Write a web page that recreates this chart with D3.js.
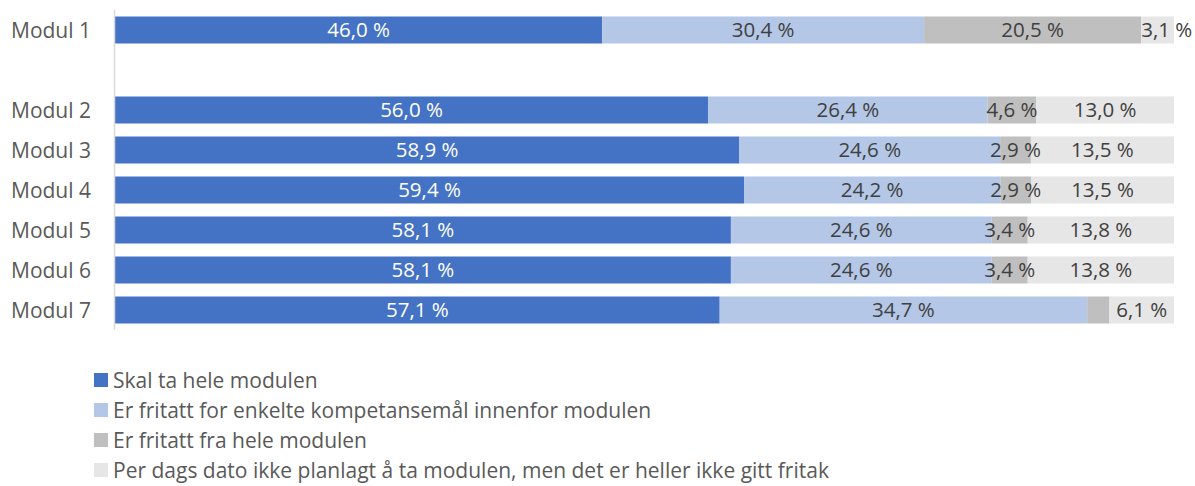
<!DOCTYPE html>
<html>
<head>
<meta charset="utf-8">
<script src="https://cdn.jsdelivr.net/npm/d3@7"></script>
<style>
  html, body { margin: 0; padding: 0; background: #fff; }
  svg { display: block; font-family: "Open Sans", sans-serif; }
</style>
</head>
<body>
<svg id="chart" width="1195" height="486"></svg>
<script>
const categories = ["Modul 1", "Modul 2", "Modul 3", "Modul 4", "Modul 5", "Modul 6", "Modul 7"];
const rowOrder = ["Modul 1", "gap", "Modul 2", "Modul 3", "Modul 4", "Modul 5", "Modul 6", "Modul 7"];
const seriesNames = [
  "Skal ta hele modulen",
  "Er fritatt for enkelte kompetansemål innenfor modulen",
  "Er fritatt fra hele modulen",
  "Per dags dato ikke planlagt å ta modulen, men det er heller ikke gitt fritak"
];
const skalTaHele   = [46.0, 56.0, 58.9, 59.4, 58.1, 58.1, 57.1];
const fritattEnk   = [30.4, 26.4, 24.6, 24.2, 24.6, 24.6, 34.7];
const fritattHele  = [20.5, 4.6, 2.9, 2.9, 3.4, 3.4, 2.1];
const ikkePlanlagt = [3.1, 13.0, 13.5, 13.5, 13.8, 13.8, 6.1];
const hiddenLabels = [["Modul 7", 2]];

const colors = ["#4472C4", "#B4C7E7", "#BFBFBF", "#E7E6E6"];
const labelColors = ["#FFFFFF", "#404040", "#404040", "#404040"];

const keys = ["s0", "s1", "s2", "s3"];
const table = categories.map((c, i) => ({
  cat: c, s0: skalTaHele[i], s1: fritattEnk[i], s2: fritattHele[i], s3: ikkePlanlagt[i]
}));

const svg = d3.select("#chart");
const x = d3.scaleLinear().domain([0, 1]).range([115, 1174]);
const y = d3.scaleBand().domain(rowOrder).range([10, 330]).paddingInner(0.325).paddingOuter(0.1625);

const stacked = d3.stack().keys(keys).offset(d3.stackOffsetExpand)(table);

const fmt = v => v.toFixed(1).replace(".", ",") + " %";

stacked.forEach((layer, si) => {
  const g = svg.append("g");
  g.selectAll("rect").data(layer).join("rect")
    .attr("x", d => x(d[0]))
    .attr("y", d => y(d.data.cat))
    .attr("width", d => x(d[1]) - x(d[0]))
    .attr("height", y.bandwidth())
    .attr("fill", colors[si]);
});

stacked.forEach((layer, si) => {
  const g = svg.append("g");
  layer.forEach(d => {
    if (hiddenLabels.some(h => h[0] === d.data.cat && h[1] === si)) return;
    const t = g.append("text")
      .attr("y", y(d.data.cat) + y.bandwidth() / 2)
      .attr("dy", "0.36em")
      .attr("font-size", 20.5)
      .attr("fill", labelColors[si])
      .text(fmt(d.data[keys[si]]));
    const w = t.node().getComputedTextLength();
    const x0 = x(d[0]), x1 = x(d[1]);
    if (si === keys.length - 1 && w > (x1 - x0)) {
      t.attr("x", x0).attr("text-anchor", "start");
    } else {
      t.attr("x", (x0 + x1) / 2).attr("text-anchor", "middle");
    }
  });
});

// axis line
svg.append("line")
  .attr("x1", 114.5).attr("x2", 114.5)
  .attr("y1", 10).attr("y2", 330)
  .attr("stroke", "#D9D9D9").attr("stroke-width", 1.5);

// category labels
svg.append("g").selectAll("text").data(categories).join("text")
  .attr("x", 11)
  .attr("y", d => y(d) + y.bandwidth() / 2)
  .attr("dy", "0.36em")
  .attr("font-size", 21)
  .attr("fill", "#595959")
  .text(d => d);

// legend
const legend = svg.append("g");
seriesNames.forEach((name, i) => {
  const cy = 380 + i * 30;
  legend.append("rect")
    .attr("x", 94).attr("y", cy - 7)
    .attr("width", 14).attr("height", 14)
    .attr("fill", colors[i]);
  legend.append("text")
    .attr("x", 113).attr("y", cy)
    .attr("dy", "0.36em")
    .attr("font-size", 21)
    .attr("fill", "#595959")
    .text(name);
});
</script>
</body>
</html>
